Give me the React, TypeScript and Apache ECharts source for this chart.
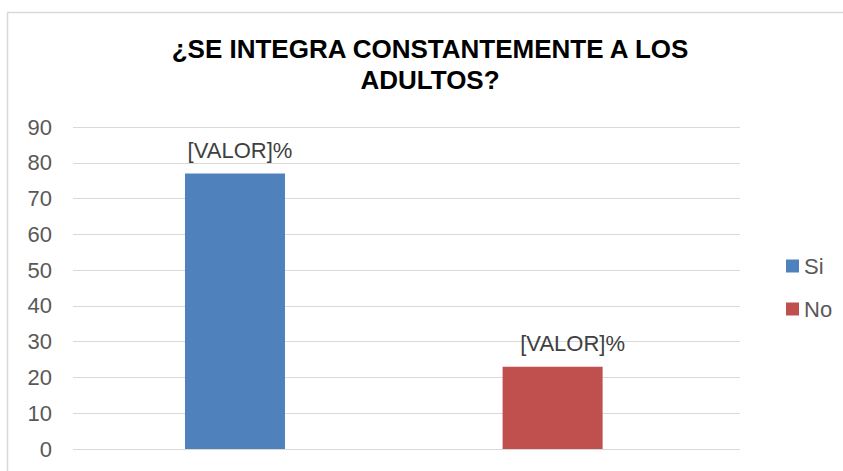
import React, { useEffect, useRef } from "react";
import * as echarts from "echarts";

const titleText = "¿SE INTEGRA CONSTANTEMENTE A LOS\nADULTOS?";
const seriesNames = ["Si", "No"];
const seriesValues = [77, 23];
const seriesColors = ["#4F81BD", "#C0504D"];
const labelText = "[VALOR]%";
const yTicks = [0, 10, 20, 30, 40, 50, 60, 70, 80, 90];

export default function App() {
  const ref = useRef<HTMLDivElement>(null);
  useEffect(() => {
    document.body.style.margin = "0";
    if (!ref.current) return;
    const chart = echarts.init(ref.current, null, { renderer: "svg" });
    const font = "'Liberation Sans', Arial, sans-serif";
    const labelOffsets = [[5, 0], [20, 0]];
    chart.setOption({
      animation: false,
      backgroundColor: "#ffffff",
      textStyle: { fontFamily: font },
      title: {
        text: titleText,
        left: 430,
        top: 33,
        padding: 0,
        textAlign: "center",
        textStyle: {
          fontFamily: font,
          fontSize: 26,
          fontWeight: "bold",
          color: "#000000",
          lineHeight: 31,
        },
      },
      graphic: [
        {
          type: "rect",
          shape: { x: 7.5, y: 12.5, width: 900, height: 500 },
          style: { fill: "none", stroke: "#D9D9D9", lineWidth: 1.5 },
          silent: true,
          z: -1,
        },
      ],
      legend: {
        orient: "vertical",
        left: 781,
        top: 250,
        itemWidth: 13,
        itemHeight: 13,
        itemGap: 21,
        icon: "rect",
        data: seriesNames,
        textStyle: { fontFamily: font, fontSize: 22, color: "#595959" },
      },
      grid: { left: 73, right: 103, top: 127, bottom: 22 },
      xAxis: {
        type: "value",
        min: -0.51,
        max: 1.59,
        show: false,
      },
      yAxis: {
        type: "value",
        min: yTicks[0],
        max: yTicks[yTicks.length - 1],
        interval: 10,
        axisLine: { show: false },
        axisTick: { show: false },
        axisLabel: {
          fontFamily: font,
          fontSize: 22,
          color: "#595959",
          margin: 21,
        },
        splitLine: { lineStyle: { color: "#D9D9D9", width: 1 } },
      },
      series: seriesNames.map((name, i) => ({
        name,
        type: "bar",
        barWidth: 100,
        barGap: "-100%",
        data: [[i, seriesValues[i]]],
        itemStyle: { color: seriesColors[i] },
        label: {
          show: true,
          position: "top",
          distance: 12,
          offset: labelOffsets[i],
          formatter: labelText,
          fontFamily: font,
          fontSize: 22,
          color: "#404040",
        },
      })),
    });
    return () => chart.dispose();
  }, []);
  return <div ref={ref} style={{ width: 843, height: 471 }} />;
}
